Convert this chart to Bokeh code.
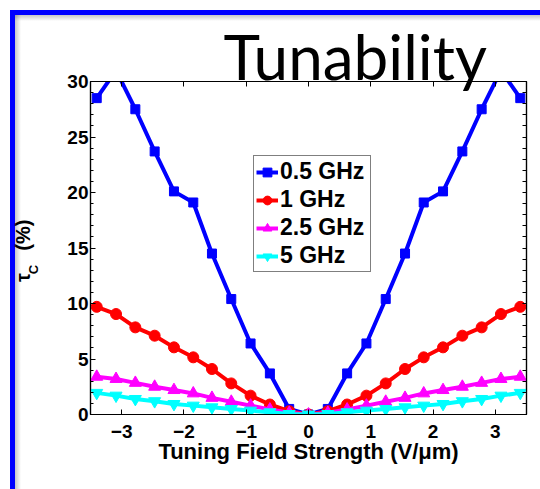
from bokeh.plotting import figure
from bokeh.models import (FixedTicker, LinearAxis, Legend, LegendItem, Range1d)
from bokeh.embed import file_html
from bokeh.resources import INLINE

# ---------------- data ----------------
field = [-3.4, -3.09, -2.78, -2.47, -2.16, -1.85, -1.55, -1.24, -0.93, -0.62, -0.31,
         0.0, 0.31, 0.62, 0.93, 1.24, 1.55, 1.85, 2.16, 2.47, 2.78, 3.09, 3.4]

tau_05ghz = [28.5, 31.0, 27.5, 23.7, 20.1, 19.1, 14.5, 10.4, 6.4, 3.7, 0.5,
             0.0, 0.5, 3.7, 6.4, 10.4, 14.5, 19.1, 20.1, 23.7, 27.5, 31.0, 28.5]
tau_1ghz = [9.7, 9.05, 7.85, 7.1, 6.05, 5.15, 4.1, 2.8, 1.7, 0.9, 0.3,
            0.0, 0.3, 0.9, 1.7, 2.8, 4.1, 5.15, 6.05, 7.1, 7.85, 9.05, 9.7]
tau_25ghz = [3.4, 3.2, 2.85, 2.5, 2.2, 1.9, 1.5, 1.15, 0.8, 0.45, 0.15,
             0.0, 0.15, 0.45, 0.8, 1.15, 1.5, 1.9, 2.2, 2.5, 2.85, 3.2, 3.4]
tau_5ghz = [1.95, 1.7, 1.4, 1.2, 0.95, 0.8, 0.65, 0.5, 0.35, 0.2, 0.05,
            0.0, 0.05, 0.2, 0.35, 0.5, 0.65, 0.8, 0.95, 1.2, 1.4, 1.7, 1.95]

series_names = ["0.5 GHz", "1 GHz", "2.5 GHz", "5 GHz"]
x_ticks = [-3, -2, -1, 0, 1, 2, 3]
y_ticks = [0, 5, 10, 15, 20, 25, 30]
y_minor = [v for v in range(0, 31) if v % 5 != 0]
y_all = list(range(0, 31))

title_text = "Tunability"
x_label = "Tuning Field Strength (V/\u03bcm)"
y_label_main = "\u03c4"
y_label_sub = "C"
y_label_unit = "(%)"

FONT = "Liberation Sans"
NB = "\u00a0"

p = figure(width=540, height=489, output_backend="svg", toolbar_location=None,
           x_range=Range1d(-3.5, 3.5), y_range=Range1d(0, 30),
           min_border_left=90, min_border_right=14, min_border_top=81,
           min_border_bottom=75)
p.grid.visible = False
p.outline_line_color = "black"
p.outline_line_width = 1.2
p.background_fill_color = "white"
p.border_fill_color = None
# slide frame (blue lines with a soft shadow) painted behind the transparent canvas border
p.styles = {
    "background-color": "white",
    "background-image": ("linear-gradient(#0000ff, #0000ff), linear-gradient(#0000ff, #0000ff), "
                         "linear-gradient(to right, rgba(0,0,0,0.22), rgba(0,0,0,0)), "
                         "linear-gradient(to bottom, rgba(0,0,0,0.22), rgba(0,0,0,0))"),
    "background-size": "5px 100%, 100% 5px, 6px 100%, 100% 6px",
    "background-position": "10px 10px, 10px 10px, 15px 15px, 15px 15px",
    "background-repeat": "no-repeat",
}

xt = FixedTicker(ticks=x_ticks, minor_ticks=[])
yt = FixedTicker(ticks=y_ticks, minor_ticks=y_minor)


def frame_axis(ax):
    ax.axis_line_color = "black"
    ax.axis_line_width = 1.2
    ax.major_tick_in = 5
    ax.major_tick_out = 0
    ax.minor_tick_in = 3
    ax.minor_tick_out = 0
    ax.major_tick_line_color = "black"
    ax.minor_tick_line_color = "black"


# bottom axis
xa = p.xaxis[0]
xa.ticker = xt
frame_axis(xa)
xa.major_label_text_font = FONT
xa.major_label_text_font_style = "bold"
xa.major_label_text_font_size = "19px"
xa.major_label_text_color = "black"
xa.major_label_standoff = 10
xa.axis_label = x_label
xa.axis_label_text_font = FONT
xa.axis_label_text_font_style = "bold"
xa.axis_label_text_font_size = "22px"
xa.axis_label_text_color = "black"
xa.axis_label_standoff = -2

# left axis (carries the subscript "C" of tau_C as its label)
ya = p.yaxis[0]
ya.ticker = yt
frame_axis(ya)
ya.major_label_text_font = FONT
ya.major_label_text_font_style = "bold"
ya.major_label_text_font_size = "19px"
ya.major_label_text_color = "black"
ya.major_label_standoff = 2
ya.axis_label = y_label_sub + NB * 12
ya.axis_label_text_font = FONT
ya.axis_label_text_font_style = "bold"
ya.axis_label_text_font_size = "13px"
ya.axis_label_text_color = "black"
ya.axis_label_standoff = 23

# outer left guide carrying "tau   (%)"
ya2 = LinearAxis(ticker=FixedTicker(ticks=[], minor_ticks=[]))
ya2.axis_line_color = None
ya2.major_tick_line_color = None
ya2.minor_tick_line_color = None
ya2.major_label_standoff = 0
ya2.axis_label = y_label_main + NB * 4 + y_label_unit + NB
ya2.axis_label_text_font = FONT
ya2.axis_label_text_font_style = "bold"
ya2.axis_label_text_font_size = "20px"
ya2.axis_label_text_color = "black"
ya2.axis_label_standoff = -10
p.add_layout(ya2, "left")

# top axis: ticks only, carries the slide title
top_ax = LinearAxis(ticker=FixedTicker(ticks=[], minor_ticks=x_ticks))
frame_axis(top_ax)
top_ax.minor_tick_in = 5
top_ax.major_label_standoff = 0
top_ax.axis_label = NB * 6 + title_text
top_ax.axis_label_text_font = "Lato"
top_ax.axis_label_text_font_style = "normal"
top_ax.axis_label_text_font_size = "62px"
top_ax.axis_label_text_color = "black"
top_ax.axis_label_standoff = -11
p.add_layout(top_ax, "above")

# right axis: ticks only
right_ax = LinearAxis(ticker=FixedTicker(ticks=[], minor_ticks=y_all))
frame_axis(right_ax)
right_ax.minor_tick_in = 4
right_ax.major_label_standoff = 0
p.add_layout(right_ax, "right")

# ---------------- series ----------------
colors = ["#0000ff", "#ff0000", "#ff00ff", "#00ffff"]
markers = ["square", "circle", "triangle", "inverted_triangle"]
sizes = [9, 11, 12, 12]
all_y = [tau_05ghz, tau_1ghz, tau_25ghz, tau_5ghz]

items = []
for name, ys, c, m, s in zip(series_names, all_y, colors, markers, sizes):
    ln = p.line(field, ys, line_color=c, line_width=4)
    sc = p.scatter(field, ys, marker=m, size=s, fill_color=c, line_color=c)
    items.append(LegendItem(label=name, renderers=[ln, sc]))

legend = Legend(items=items, location=(163, 142),
                label_text_font=FONT, label_text_font_style="bold",
                label_text_font_size="23px", label_text_color="black",
                glyph_width=22, glyph_height=24, label_height=24, label_width=88,
                label_standoff=2, spacing=1, padding=2, margin=0,
                border_line_color="black", border_line_width=1.5,
                background_fill_color="white", background_fill_alpha=1.0)
p.add_layout(legend)

open("out.html", "w").write(file_html(p, INLINE))
